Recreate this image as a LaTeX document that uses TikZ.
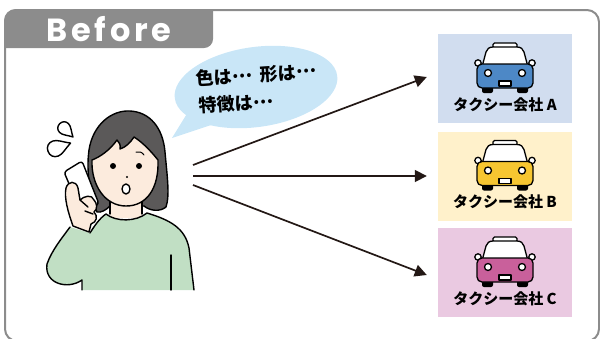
\documentclass[tikz,border=0pt]{standalone}
\usepackage{fontspec}
\newfontfamily\jpfont{Noto Sans CJK JP}
\newfontfamily\titlefont{Poppins}[LetterSpace=12]
\usetikzlibrary{arrows.meta}

\definecolor{framegray}{HTML}{8C8C8C}
\definecolor{bubblecol}{HTML}{C9E6F7}
\definecolor{boxAcol}{HTML}{D1DDEF}
\definecolor{boxBcol}{HTML}{FFF1CB}
\definecolor{boxCcol}{HTML}{EAC9E1}
\definecolor{carblue}{HTML}{4D88C6}
\definecolor{caryellow}{HTML}{F6C631}
\definecolor{carpink}{HTML}{C9609B}
\definecolor{sweatercol}{HTML}{C1DFC4}
\definecolor{skincol}{HTML}{FCEBDD}
\definecolor{haircol}{HTML}{5B5959}
\definecolor{arrowcol}{HTML}{231815}

% ellipsis set at mid height, as in Japanese typesetting
\newcommand\midell{\raisebox{0.28em}{…}}

\tikzset{
  outline/.style={draw=black, line width=1.4pt, line join=round, line cap=round},
  carline/.style={draw=black, line width=1.3pt, line join=round},
  cbox/.style={minimum width=134pt, minimum height=89pt, inner sep=0pt, draw=none},
  lbl/.style={font=\jpfont\bfseries\fontsize{15}{15}\selectfont, text=black, inner sep=0pt},
  bubtxt/.style={font=\jpfont\bfseries\fontsize{18}{18}\selectfont, text=black, inner sep=0pt},
  arr/.style={draw=arrowcol, line width=1.7pt, -{Triangle[length=12pt,width=12pt]}},
  pics/taxi/.style={code={
    % roof sign and cab
    \filldraw[fill=white, carline, rounded corners=1.5pt] (-12,-24) rectangle (12,-19);
    \filldraw[fill=white, carline] (-23,0) -- (-19,-15) .. controls (-18,-18) and (-16,-20) .. (-12,-20)
      -- (12,-20) .. controls (16,-20) and (18,-18) .. (19,-15) -- (23,0) -- cycle;
    % side mirrors
    \filldraw[fill=white, carline] (-27,-4) circle (3.2) (27,-4) circle (3.2);
    % wheels
    \fill[black, rounded corners=2pt] (-23,15) rectangle (-12,26);
    \fill[black, rounded corners=2pt] (12,15) rectangle (23,26);
    % body
    \filldraw[fill=#1, carline, rounded corners=5pt] (-28,-3) rectangle (28,21);
    % headlights and plate
    \filldraw[fill=white, carline] (-17,6) circle (3.5) (17,6) circle (3.5);
    \filldraw[fill=white, carline] (-6,14) rectangle (6,19);
  }},
  pics/drop/.style={code={
    \filldraw[fill=white, outline] (0,-9) .. controls (2,-5) and (5,-2) .. (5,1)
      .. controls (5,4) and (3,6) .. (0,6) .. controls (-3,6) and (-5,4) .. (-5,1)
      .. controls (-5,-2) and (-2,-5) .. (0,-9) -- cycle;
  }}
}

\begin{document}
\begin{tikzpicture}[x=1pt, y=-1pt]
\useasboundingbox (0,0) rectangle (600,338);

% outer frame and title tab
\draw[framegray, line width=2pt, rounded corners=12pt] (5,10) rectangle (599,341);
\fill[framegray] (4,48) -- (4,21) .. controls (4,14) and (9,9) .. (16,9) -- (213,9)
  -- (213,39) .. controls (213,44) and (209,48) .. (204,48) -- cycle;
\node[text=white, font=\titlefont\bfseries\fontsize{32}{32}\selectfont] (title) at (109,29) {Before};

% speech bubble
\fill[bubblecol, rotate around={8:(256,87)}] (256,87) ellipse (82 and 40);
\fill[bubblecol] (188,112) -- (172,138) -- (214,124) -- cycle;
\node[bubtxt, rotate=4, anchor=west] (t1) at (196,79) {色は\midell\hspace{0.45em}形は\midell};
\node[bubtxt, rotate=4, anchor=west] (t2) at (199,106) {特徴は\midell};

% woman on the phone
\filldraw[fill=haircol, outline] (97,212) .. controls (90,195) and (86,172) .. (89,150)
  .. controls (93,124) and (112,110) .. (130,111) .. controls (150,112) and (163,128) .. (165,152)
  .. controls (167,175) and (170,195) .. (166,207) .. controls (160,212) and (150,211) .. (144,206)
  -- (110,206) .. controls (106,210) and (101,213) .. (97,212) -- cycle;
\fill[skincol] (110,195) rectangle (142,218);
\draw[outline] (110,198) -- (110,214) (142,198) -- (142,214);
% sweater
\fill[sweatercol] (82,290) -- (82,280) .. controls (68,290) and (44,284) .. (47,264)
  .. controls (52,250) and (62,238) .. (70,227) -- (90,233)
  .. controls (95,225) and (100,218) .. (106,214) .. controls (116,222) and (136,222) .. (147,213)
  .. controls (170,220) and (185,228) .. (189,248) -- (194,290) -- cycle;
\draw[outline] (82,290) -- (82,280) .. controls (68,290) and (44,284) .. (47,264)
  .. controls (52,250) and (62,238) .. (70,227)
  (90,233) .. controls (95,225) and (100,218) .. (106,214) .. controls (116,222) and (136,222) .. (147,213)
  .. controls (170,220) and (185,228) .. (189,248) -- (194,290);
\draw[outline] (171,255) -- (171,290);
% face
\filldraw[fill=skincol, outline] (92,160) .. controls (91,185) and (105,206) .. (126,206)
  .. controls (147,206) and (159,188) .. (158,160)
  .. controls (150,150) and (142,142) .. (134,137) .. controls (130,143) and (126,147) .. (120,149)
  .. controls (121,145) and (119,142) .. (117,140) .. controls (110,150) and (100,157) .. (92,160) -- cycle;
\fill (113,166) circle (3);
\fill (139,166) circle (3);
\draw[line width=1pt, line cap=round] (136,152) .. controls (139,151) and (142,152) .. (144,155);
\fill (127,177) circle (1.2);
\filldraw[fill=white, outline] (126,189) ellipse (4 and 5);
% phone and hand
\filldraw[fill=white, outline, rounded corners=3pt] (64,172) -- (82,161) -- (99,204) -- (82,214) -- cycle;
\filldraw[fill=skincol, outline] (73,226) .. controls (68,212) and (64,198) .. (66,188)
  .. controls (68,181) and (76,180) .. (78,188) -- (80,200)
  .. controls (84,196) and (92,194) .. (94,200) .. controls (97,203) and (98,209) .. (94,212)
  .. controls (98,216) and (97,222) .. (91,224) -- (89,232) -- cycle;
\draw[outline] (80,200) -- (88,207) (85,211) -- (93,214);
% sweat drops
\pic[shift={(65,129)}, rotate=-135, scale=1.25] {drop};
\pic[shift={(57,148)}, rotate=-70, scale=1.6] {drop};

% taxi company boxes
\node[cbox, fill=boxAcol] (boxA) at (505,78.5) {};
\node[cbox, fill=boxBcol] (boxB) at (505,176) {};
\node[cbox, fill=boxCcol] (boxC) at (505,272.5) {};
\pic at (505,67) {taxi=carblue};
\pic at (505,164.5) {taxi=caryellow};
\pic at (505,261) {taxi=carpink};
\node[lbl] (labA) at (505,104.5) {タクシー会社 A};
\node[lbl] (labB) at (505,202) {タクシー会社 B};
\node[lbl] (labC) at (505,298.5) {タクシー会社 C};

% arrows from the caller to each company
\coordinate (s1) at (193,165);
\coordinate (s2) at (193,176);
\coordinate (s3) at (193,185);
\draw[arr] (s1) -- ([xshift=-11pt, yshift=1.5pt]boxA.west);
\draw[arr] (s2) -- ([xshift=-11pt]boxB.west);
\draw[arr] (s3) -- ([xshift=-11pt, yshift=-2.5pt]boxC.west);
\end{tikzpicture}
\end{document}
